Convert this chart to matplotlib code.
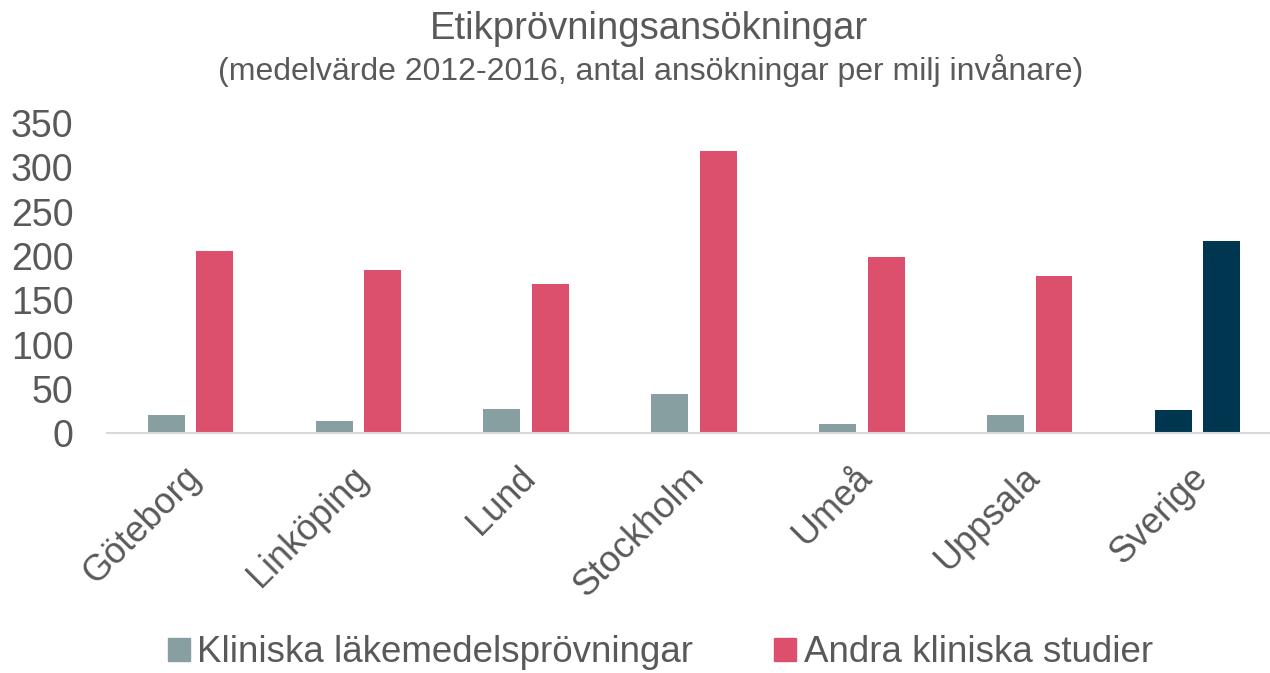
import matplotlib.pyplot as plt
import matplotlib.transforms as mtransforms
import numpy as np

plt.rcParams['font.family'] = ['Liberation Sans', 'DejaVu Sans']

regions = ['Göteborg', 'Linköping', 'Lund', 'Stockholm', 'Umeå', 'Uppsala', 'Sverige']
klin_lak = [21, 14, 27, 44, 11, 21, 26]
andra = [206, 184, 169, 319, 199, 178, 217]
yticks = [0, 50, 100, 150, 200, 250, 300, 350]

gray = '#879FA1'
pink = '#DC506E'
navy = '#00364F'
text_col = '#595959'

fig = plt.figure(figsize=(12.7, 6.73), dpi=100)
ax = fig.add_axes([0.084, 0.356, 0.925, 0.461])

x = np.arange(len(regions))
w = 0.22
off = 0.145
c1 = [gray] * (len(regions) - 1) + [navy]
c2 = [pink] * (len(regions) - 1) + [navy]
ax.bar(x - off, klin_lak, w, color=c1, label='Kliniska läkemedelsprövningar')
ax.bar(x + off, andra, w, color=c2, label='Andra kliniska studier')

ax.set_xlim(-0.5, 6.5)
ax.set_ylim(0, 350)
ax.set_yticks(yticks)
ax.set_xticks(x)
ax.set_xticklabels(regions, rotation=45, ha='right', rotation_mode='anchor')
ax.tick_params(axis='both', length=0, labelcolor=text_col)
ax.tick_params(axis='x', pad=19, labelsize=26)
ax.tick_params(axis='y', pad=24, labelsize=27)
shift = mtransforms.ScaledTranslation(-8 / 100, 0, fig.dpi_scale_trans)
for lab in ax.get_xticklabels():
    lab.set_transform(lab.get_transform() + shift)
for s in ['top', 'right', 'left']:
    ax.spines[s].set_visible(False)
ax.spines['bottom'].set_color('#D9D9D9')
ax.spines['bottom'].set_linewidth(1.5)

fig.text(0.511, 0.957, 'Etikprövningsansökningar', ha='center', va='center',
         fontsize=27.5, color=text_col)
fig.text(0.512, 0.895, '(medelvärde 2012-2016, antal ansökningar per milj invånare)',
         ha='center', va='center', fontsize=23, color=text_col)

handles = [plt.Rectangle((0, 0), 1, 1, color=gray), plt.Rectangle((0, 0), 1, 1, color=pink)]
leg = fig.legend(handles, ['Kliniska läkemedelsprövningar', 'Andra kliniska studier'],
                 loc='center', bbox_to_anchor=(0.52, 0.03), ncol=2, frameon=False,
                 fontsize=26.5, handlelength=0.6, handleheight=0.6, handletextpad=0.2,
                 columnspacing=2.2, labelcolor=text_col)

fig.savefig('out.png', dpi=100)
